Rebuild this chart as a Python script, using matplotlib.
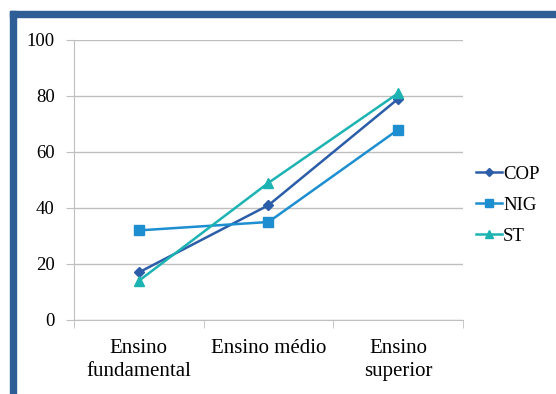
import matplotlib
matplotlib.use("Agg")
from matplotlib import pyplot as plt
from matplotlib.patches import Rectangle

categories = ["Ensino\nfundamental", "Ensino médio", "Ensino\nsuperior"]
cop = [17, 41, 79]
nig = [32, 35, 68]
st = [14, 49, 81]

plt.rcParams["font.family"] = ["Liberation Serif", "DejaVu Serif"]

fig = plt.figure(figsize=(5.56, 3.94), dpi=100)
fig.patches.append(Rectangle((10 / 556, 0), 6 / 556, 1 - 11 / 394, transform=fig.transFigure,
                             color="#2F5E97", zorder=0))
fig.patches.append(Rectangle((10 / 556, 1 - 17 / 394), 1, 6 / 394, transform=fig.transFigure,
                             color="#2F5E97", zorder=0))

ax = fig.add_axes([74 / 556, 1 - 320 / 394, 389 / 556, 280 / 394])
x = range(len(categories))
ax.plot(x, cop, color="#2C5DA8", marker="D", markersize=5, lw=1.8, label="COP", zorder=3)
ax.plot(x, nig, color="#1D8FD0", marker="s", markersize=7, lw=1.8, label="NIG", zorder=3)
ax.plot(x, st, color="#1DB3B3", marker="^", markersize=7, lw=1.8, label="ST", zorder=3)

ax.set_xlim(-0.5, 2.5)
ax.set_ylim(0, 100)
ax.set_yticks(range(0, 101, 20))
ax.yaxis.grid(True, color="#BFBFBF", lw=1)
ax.set_axisbelow(True)
ax.set_xticks(list(x))
ax.set_xticklabels(categories, linespacing=1.25)
ax.set_xticks([-0.5, 0.5, 1.5, 2.5], minor=True)
ax.tick_params(axis="x", which="major", length=0, pad=14, labelsize=15)
ax.tick_params(axis="x", which="minor", length=6, color="#BFBFBF")
ax.tick_params(axis="y", length=6, color="#BFBFBF", labelsize=13.5, pad=8)
for s in ["top", "right"]:
    ax.spines[s].set_visible(False)
for s in ["left", "bottom"]:
    ax.spines[s].set_color("#BFBFBF")

ax.legend(loc="center left", bbox_to_anchor=(0.99, 0.41), frameon=False, fontsize=13.5,
          handlelength=1.4, handletextpad=0.05, labelspacing=0.75, markerscale=0.75)

fig.savefig("out.png", dpi=100)
